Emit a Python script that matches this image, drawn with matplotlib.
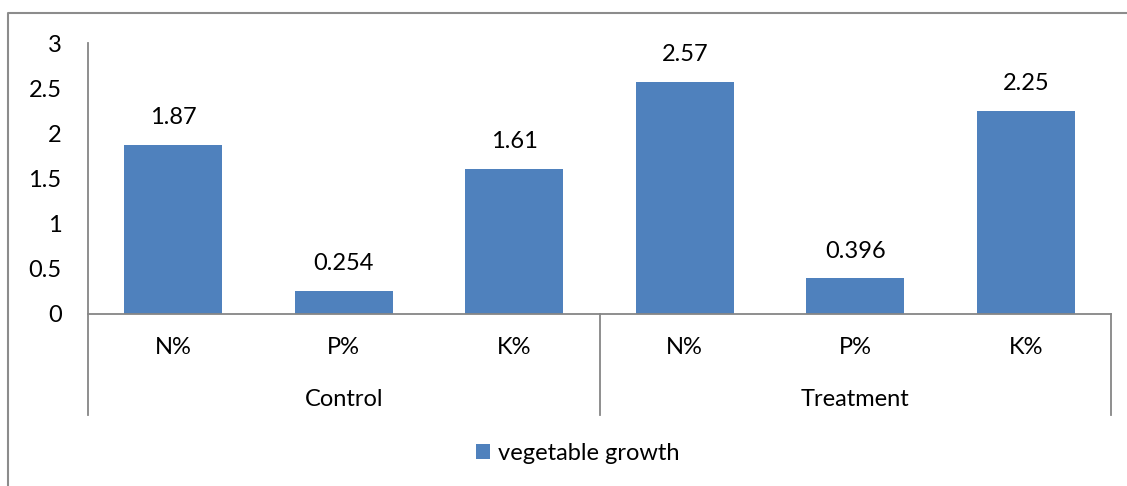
import matplotlib
matplotlib.use('Agg')
import matplotlib.pyplot as plt
from matplotlib.lines import Line2D

plt.rcParams['font.family'] = ['Lato', 'DejaVu Sans']

groups = ['Control', 'Treatment']
nutrients = ['N%', 'P%', 'K%']
values = [1.87, 0.254, 1.61, 2.57, 0.396, 2.25]
value_labels = ['1.87', '0.254', '1.61', '2.57', '0.396', '2.25']
series_name = 'vegetable growth'

W, H = 1127, 486
fig = plt.figure(figsize=(W / 100, H / 100), dpi=100)
ax = fig.add_axes([88 / W, (H - 314) / H, (1111 - 88) / W, (314 - 43) / H])

grey = '#868686'
blue = '#4F81BD'
fs = 17

x = list(range(len(values)))
ax.bar(x, values, width=0.575, color=blue, label=series_name, zorder=2)
ax.set_xlim(-0.5, len(values) - 0.5)
ax.set_ylim(0, 3)
ax.set_yticks([0, 0.5, 1, 1.5, 2, 2.5, 3])
ax.set_yticklabels(['0', '0.5', '1', '1.5', '2', '2.5', '3'], fontsize=fs)
ax.tick_params(axis='y', length=0, pad=19)
ax.set_xticks([])

for s in ['top', 'right', 'left']:
    ax.spines[s].set_visible(False)
ax.spines['bottom'].set_color(grey)
ax.spines['bottom'].set_linewidth(1.3)

# value labels above bars
for xi, v, lab in zip(x, values, value_labels):
    ax.annotate(lab, (xi, v), xytext=(0, 19.5), textcoords='offset points',
                ha='center', va='center', fontsize=fs)

# category labels, two levels
tr = ax.get_xaxis_transform()
for i, xi in enumerate(x):
    ax.text(xi, -0.125, nutrients[i % 3], transform=tr, ha='center', va='center', fontsize=fs)
for g, name in enumerate(groups):
    ax.text(g * 3 + 1, -0.317, name, transform=tr, ha='center', va='center', fontsize=fs)

# y axis line and group dividers
y_low = (314 - 415) / (314 - 43)
ax.plot([-0.5, -0.5], [y_low, 1], transform=tr, color=grey, lw=1.3, clip_on=False)
for xd in [2.5, 5.5]:
    ax.plot([xd, xd], [y_low, 0], transform=tr, color=grey, lw=1.3, clip_on=False)

# legend
fig.legend(loc='center', bbox_to_anchor=(578 / W, 1 - 453 / H), frameon=False,
           fontsize=fs, handlelength=0.6, handleheight=0.6, handletextpad=0.35)

# outer border (top and left visible)
bx = 7.5 / W
by = 1 - 13 / H
fig.add_artist(Line2D([bx, bx, 1], [0, by, by], transform=fig.transFigure,
                      color='#8c8c8c', lw=1.5))

fig.savefig('out.png', dpi=100)
